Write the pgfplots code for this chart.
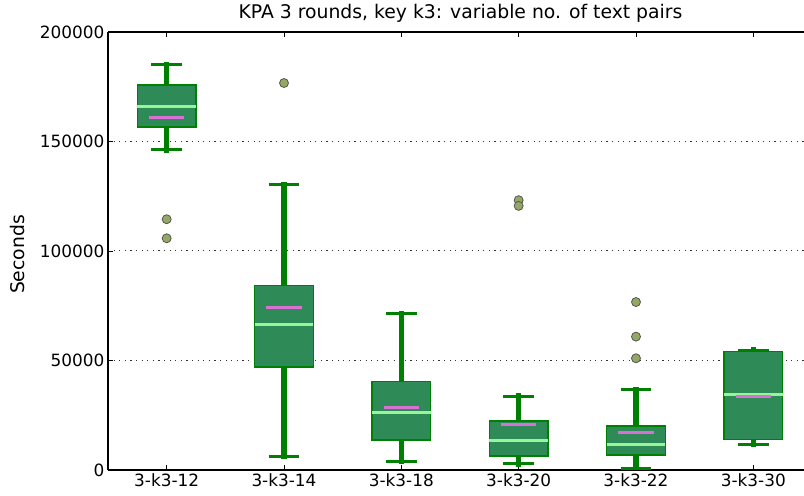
\documentclass[border=0pt]{standalone}
\usepackage{pgfplots}
\pgfplotsset{compat=1.18}
\usepgfplotslibrary{statistics}
\usepackage{fontspec}
\setmainfont{DejaVu Sans}
\definecolor{seagreen}{HTML}{2E8B57}
\definecolor{mplgreen}{HTML}{008000}
\definecolor{medgreen}{HTML}{98F598}
\definecolor{meanpink}{HTML}{DA70D6}
\definecolor{outfill}{HTML}{93A862}
\definecolor{outedge}{HTML}{555555}
\pgfplotsset{
  boxplot/draw direction=y,
  boxplot/draw/lower whisker/.code={%
    \draw[mplgreen, line width=5.5pt, line cap=rect]
      (boxplot cs:\pgfplotsboxplotvalue{lower whisker}) -- (boxplot cs:\pgfplotsboxplotvalue{lower quartile});
    \draw[mplgreen, line width=2.8pt]
      (boxplot whisker cs:\pgfplotsboxplotvalue{lower whisker},0) -- (boxplot whisker cs:\pgfplotsboxplotvalue{lower whisker},1);
  },
  boxplot/draw/upper whisker/.code={%
    \draw[mplgreen, line width=5.5pt, line cap=rect]
      (boxplot cs:\pgfplotsboxplotvalue{upper whisker}) -- (boxplot cs:\pgfplotsboxplotvalue{upper quartile});
    \draw[mplgreen, line width=2.8pt]
      (boxplot whisker cs:\pgfplotsboxplotvalue{upper whisker},0) -- (boxplot whisker cs:\pgfplotsboxplotvalue{upper whisker},1);
  },
  boxplot/draw/average/.code={%
    \draw[meanpink, line width=3pt]
      (boxplot box cs:\pgfplotsboxplotvalue{average},0.2) -- (boxplot box cs:\pgfplotsboxplotvalue{average},0.8);
  },
  boxplot/every box/.style={fill=seagreen, draw=mplgreen, line width=1.5pt},
  boxplot/every median/.style={draw=medgreen, line width=3pt},
}
\begin{document}
\begin{tikzpicture}[font=\fontsize{16.9}{20}\selectfont]
\begin{axis}[
  scale only axis, width=696pt, height=438pt,
  xmin=-0.5, xmax=5.432, ymin=0, ymax=200000,
  axis x line=box, axis y line=left,
  axis line style={-, line width=1.1pt, black},
  xtick={0,1,2,3,4,5},
  xticklabels={3-k3-12,3-k3-14,3-k3-18,3-k3-20,3-k3-22,3-k3-30},
  ytick={0,50000,100000,150000,200000},
  scaled y ticks=false,
  yticklabel style={/pgf/number format/fixed, /pgf/number format/1000 sep={}},
  /pgf/number format/assume math mode=true,
  tick align=inside, major tick length=5pt,
  tick style={black, line width=0.8pt},
  ymajorgrids,
  major grid style={black!80, line width=1pt, dash pattern=on 1.2pt off 4.4pt},
  title={KPA 3 rounds, key k3: variable no. of text pairs},
  title style={at={([xshift=4.5pt,yshift=7pt]axis description cs:0.5,1)}, anchor=base, inner sep=0pt, font=\fontsize{18.8}{22}\selectfont},
  ylabel={Seconds},
  ylabel style={at={([xshift=-83pt,yshift=-3.5pt]axis description cs:0,0.5)}, anchor=south, inner sep=0pt, font=\fontsize{18.8}{22}\selectfont},
]
\addplot[boxplot prepared={draw position=0, lower whisker=146200, lower quartile=156600, median=166000, upper quartile=175800, upper whisker=185200, average=161100, box extend=0.5, whisker extend=0.26}] coordinates {};
\addplot[boxplot prepared={draw position=1, lower whisker=6300, lower quartile=47000, median=66600, upper quartile=84300, upper whisker=130200, average=74100, box extend=0.5, whisker extend=0.26}] coordinates {};
\addplot[boxplot prepared={draw position=2, lower whisker=4000, lower quartile=13800, median=26400, upper quartile=40500, upper whisker=71500, average=28700, box extend=0.5, whisker extend=0.26}] coordinates {};
\addplot[boxplot prepared={draw position=3, lower whisker=2800, lower quartile=6300, median=13300, upper quartile=22300, upper whisker=33700, average=20800, box extend=0.5, whisker extend=0.26}] coordinates {};
\addplot[boxplot prepared={draw position=4, lower whisker=800, lower quartile=6900, median=11500, upper quartile=20200, upper whisker=36700, average=17300, box extend=0.5, whisker extend=0.26}] coordinates {};
\addplot[boxplot prepared={draw position=5, lower whisker=11800, lower quartile=13900, median=34400, upper quartile=54200, upper whisker=54800, average=33700, box extend=0.5, whisker extend=0.26}] coordinates {};
\addplot[only marks, mark=*, mark size=4.5pt, mark options={fill=outfill, draw=outedge, line width=0.8pt}] coordinates {
(0,114500) (0,105800) (1,176700) (3,123200) (3,120600) (4,76700) (4,60900) (4,51000)};
\coordinate (SW) at (rel axis cs:0,0);
\coordinate (NE) at (rel axis cs:1,1);
\end{axis}
\pgfresetboundingbox
\path ([xshift=-108pt,yshift=-26pt]SW) rectangle ([yshift=32pt]NE);
\end{tikzpicture}
\end{document}
